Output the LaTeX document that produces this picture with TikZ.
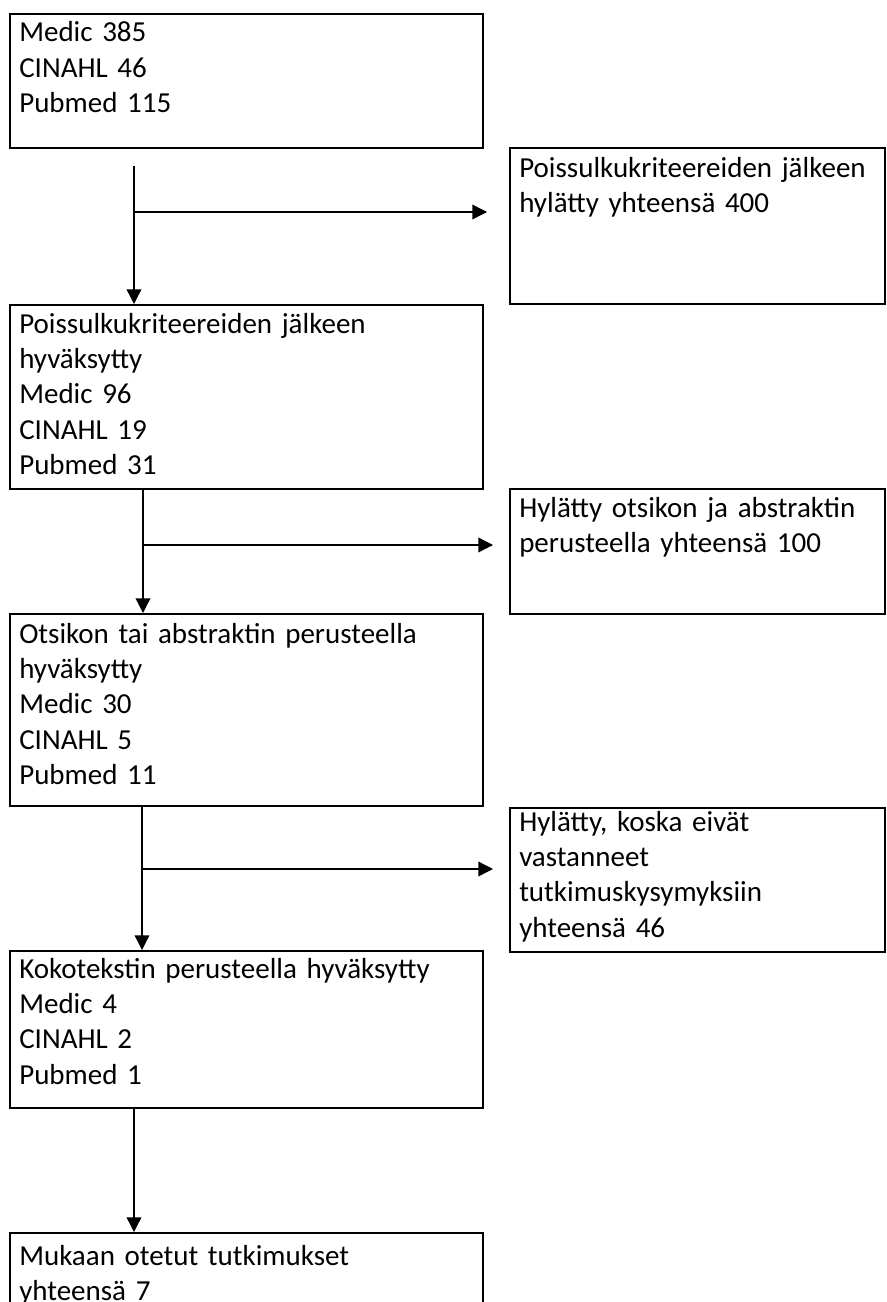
\documentclass[tikz,border=0pt]{standalone}
\usepackage{fontspec}
\setmainfont{Carlito}
\usetikzlibrary{positioning,arrows.meta,calc}

\begin{document}
\begin{tikzpicture}[
  x=0.75pt, y=-0.75pt,
  font=\fontsize{21.75}{26.5}\selectfont,
  box/.style={draw, line width=1.5pt, anchor=north west, inner sep=0pt},
  lbox/.style={box, minimum width=354.75pt},
  rbox/.style={box, minimum width=281.25pt},
  txt/.style={anchor=base west, inner sep=0pt, align=left, text width=340pt},
  arr/.style={-{Triangle[length=11pt, width=11pt]}, line width=1pt},
]
\useasboundingbox (0,0) rectangle (886,1302);
\clip (0,0) rectangle (886,1302);

% left column
\node[lbox, minimum height=100.5pt] (haku) at (9,13) {};
\node[lbox, minimum height=138pt] (poiss) at (9,304) {};
\node[lbox, minimum height=144pt] (otsikko) at (9,613) {};
\node[lbox, minimum height=117.75pt] (koko) at (9,950) {};
\node[lbox, minimum height=75pt] (mukaan) at (9,1232) {};

% rejected
\node[rbox, minimum height=117pt] (hyl1) at (509,147) {};
\node[rbox, minimum height=93.75pt] (hyl2) at (509,488) {};
\node[rbox, minimum height=108pt] (hyl3) at (509,807) {};

% texts
\node[txt] (haku-t) at ($(haku.north west)+(10,29)$)
  {Medic 385\\CINAHL 46\\Pubmed 115};
\node[txt] (poiss-t) at ($(poiss.north west)+(10,29)$)
  {Poissulkukriteereiden jälkeen\\hyväksytty\\Medic 96\\CINAHL 19\\Pubmed 31};
\node[txt] (otsikko-t) at ($(otsikko.north west)+(10,30)$)
  {Otsikon tai abstraktin perusteella\\hyväksytty\\Medic 30\\CINAHL 5\\Pubmed 11};
\node[txt] (koko-t) at ($(koko.north west)+(10,28)$)
  {Kokotekstin perusteella hyväksytty\\Medic 4\\CINAHL 2\\Pubmed 1};
\node[txt] (mukaan-t) at ($(mukaan.north west)+(10,33)$)
  {Mukaan otetut tutkimukset\\yhteensä 7};
\node[txt] (hyl1-t) at ($(hyl1.north west)+(10,30)$)
  {Poissulkukriteereiden jälkeen\\hylätty yhteensä 400};
\node[txt] (hyl2-t) at ($(hyl2.north west)+(10,29)$)
  {Hylätty otsikon ja abstraktin\\perusteella yhteensä 100};
\node[txt] (hyl3-t) at ($(hyl3.north west)+(10,24)$)
  {Hylätty, koska eivät\\vastanneet\\tutkimuskysymyksiin\\yhteensä 46};

% arrows
\coordinate (s1) at (134,166);
\coordinate (j1) at (134,212);
\draw[arr] (s1) -- (s1 |- poiss.north);
\draw[arr, shorten >=16.5pt] (j1) -- (j1 -| hyl1.west);

\coordinate (s2) at ($(poiss.south west)+(134,0)$);
\coordinate (j2) at ($(s2)+(0,55)$);
\draw[arr] (s2) -- (s2 |- otsikko.north);
\draw[arr, shorten >=12pt] (j2) -- (j2 -| hyl2.west);

\coordinate (s3) at ($(otsikko.south west)+(133,0)$);
\coordinate (j3) at ($(s3)+(0,62)$);
\draw[arr] (s3) -- (s3 |- koko.north);
\draw[arr, shorten >=12pt] (j3) -- (j3 -| hyl3.west);

\coordinate (s4) at ($(koko.south west)+(125,0)$);
\draw[arr] (s4) -- (s4 |- mukaan.north);

\end{tikzpicture}
\end{document}
